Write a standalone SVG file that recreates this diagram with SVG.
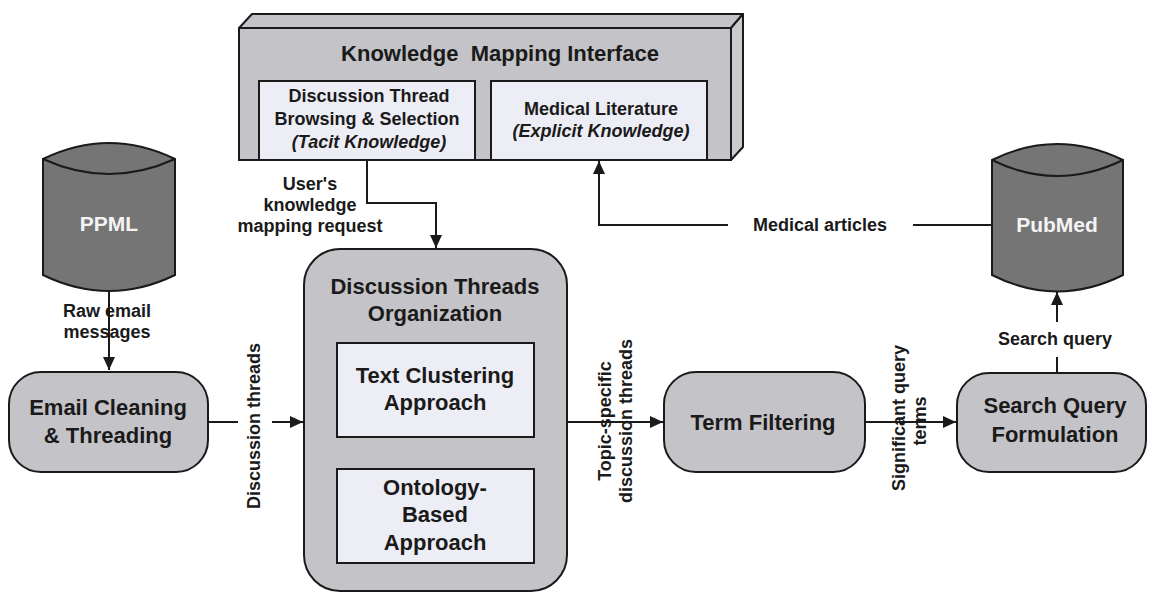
<svg xmlns="http://www.w3.org/2000/svg" width="1149" height="593" viewBox="0 0 1149 593">
  <style>
    .ln { fill: none; stroke: #1a1a1a; stroke-width: 2; }
    .node { fill: #c4c3c7; stroke: #1a1a1a; stroke-width: 2; }
    .inner { fill: #ededf5; stroke: #1a1a1a; stroke-width: 2; }
    .db { fill: #757575; stroke: #1a1a1a; stroke-width: 2; }
    text { font-family: "Liberation Sans", Arial, sans-serif; font-weight: bold; fill: #1a1a1a; text-anchor: middle; }
    .big { font-size: 22px; }
    .lbl { font-size: 18px; }
    .it { font-style: italic; }
    .white { fill: #f4f4f4; font-size: 21px; }
  </style>
  <defs>
    <marker id="ah" markerUnits="userSpaceOnUse" markerWidth="14" markerHeight="14" viewBox="0 0 14 14" refX="13" refY="7" orient="auto">
      <path d="M0,1 L13,7 L0,13 Z" fill="#1a1a1a"/>
    </marker>
  </defs>
  <rect width="1149" height="593" fill="#ffffff"/>

  <!-- Knowledge Mapping Interface (3D panel) -->
  <g id="kmi">
    <polygon points="239,28 252,14 743,14 731,28" fill="#c4c3c7" stroke="#1a1a1a" stroke-width="2" stroke-linejoin="round"/>
    <polygon points="731,28 743,14 743,147 731,160" fill="#cbcacf" stroke="#1a1a1a" stroke-width="2" stroke-linejoin="round"/>
    <rect x="239" y="28" width="492" height="132" class="node"/>
    <text x="500" y="61" class="big" xml:space="preserve">Knowledge  Mapping Interface</text>
  </g>
  <g id="kmi-threads">
    <rect x="259" y="81" width="216" height="79" class="inner"/>
    <text x="369" y="102" class="lbl">Discussion Thread</text>
    <text x="367" y="125" class="lbl">Browsing &amp; Selection</text>
    <text x="369" y="148" class="lbl it">(Tacit Knowledge)</text>
  </g>
  <g id="kmi-literature">
    <rect x="491" y="81" width="216" height="79" class="inner"/>
    <text x="601" y="115" class="lbl">Medical Literature</text>
    <text x="601" y="137" class="lbl it">(Explicit Knowledge)</text>
  </g>

  <!-- Data sources -->
  <g id="ppml">
    <path d="M43,159 Q109,127 175,159 L175,275 Q109,307 43,275 Z" class="db"/>
    <path d="M43,159 Q109,189 175,159" class="ln"/>
    <text x="109" y="231" class="white">PPML</text>
  </g>
  <g id="pubmed">
    <path d="M992,160 Q1057,128 1123,160 L1123,275 Q1057,308 992,275 Z" class="db"/>
    <path d="M992,160 Q1057,192 1123,160" class="ln"/>
    <text x="1057" y="232" class="white">PubMed</text>
  </g>

  <!-- Processing stages -->
  <g id="email-cleaning">
    <rect x="9" y="372" width="199" height="100" rx="32" class="node"/>
    <text x="108" y="415" class="big">Email Cleaning</text>
    <text x="108" y="443" class="big">&amp; Threading</text>
  </g>
  <g id="threads-organization">
    <rect x="304" y="249" width="263" height="342" rx="36" class="node"/>
    <text x="435" y="294" class="big">Discussion Threads</text>
    <text x="435" y="321" class="big">Organization</text>
  </g>
  <g id="text-clustering">
    <rect x="337" y="343" width="197" height="94" class="inner"/>
    <text x="435" y="383" class="big">Text Clustering</text>
    <text x="435" y="410" class="big">Approach</text>
  </g>
  <g id="ontology-based">
    <rect x="337" y="469" width="197" height="94" class="inner"/>
    <text x="435" y="495" class="big">Ontology-</text>
    <text x="435" y="522" class="big">Based</text>
    <text x="435" y="550" class="big">Approach</text>
  </g>
  <g id="term-filtering">
    <rect x="664" y="372" width="201" height="100" rx="32" class="node"/>
    <text x="763" y="430" class="big">Term Filtering</text>
  </g>
  <g id="query-formulation">
    <rect x="957" y="373" width="189" height="99" rx="32" class="node"/>
    <text x="1055" y="413" class="big">Search Query</text>
    <text x="1055" y="442" class="big">Formulation</text>
  </g>

  <!-- Connectors -->
  <g id="connectors">
    <path d="M109,291 L109,370" class="ln" marker-end="url(#ah)"/>
    <text x="107" y="317" class="lbl">Raw email</text>
    <text x="107" y="338" class="lbl">messages</text>

    <path d="M208,422 L238,422" class="ln"/>
    <path d="M272,422 L303,422" class="ln" marker-end="url(#ah)"/>
    <text transform="translate(260,426) rotate(-90)" class="lbl">Discussion threads</text>

    <path d="M367,160 L367,203 L436,203 L436,248" class="ln" marker-end="url(#ah)"/>
    <text x="310" y="190" class="lbl">User's</text>
    <text x="310" y="211" class="lbl">knowledge</text>
    <text x="310" y="232" class="lbl">mapping request</text>

    <path d="M567,422 L663,422" class="ln" marker-end="url(#ah)"/>
    <text transform="translate(611,421) rotate(-90)" class="lbl">Topic-specific</text>
    <text transform="translate(632,421) rotate(-90)" class="lbl">discussion threads</text>

    <path d="M865,422 L956,422" class="ln" marker-end="url(#ah)"/>
    <text transform="translate(905,418) rotate(-90)" class="lbl">Significant query</text>
    <text transform="translate(926,421) rotate(-90)" class="lbl">terms</text>

    <path d="M1057,373 L1057,357" class="ln"/>
    <path d="M1057,322 L1057,292" class="ln" marker-end="url(#ah)"/>
    <text x="1055" y="345" class="lbl">Search query</text>

    <path d="M992,225 L913,225" class="ln"/>
    <path d="M728,225 L599,225 L599,161" class="ln" marker-end="url(#ah)"/>
    <text x="820" y="231" class="lbl">Medical articles</text>
  </g>
</svg>
